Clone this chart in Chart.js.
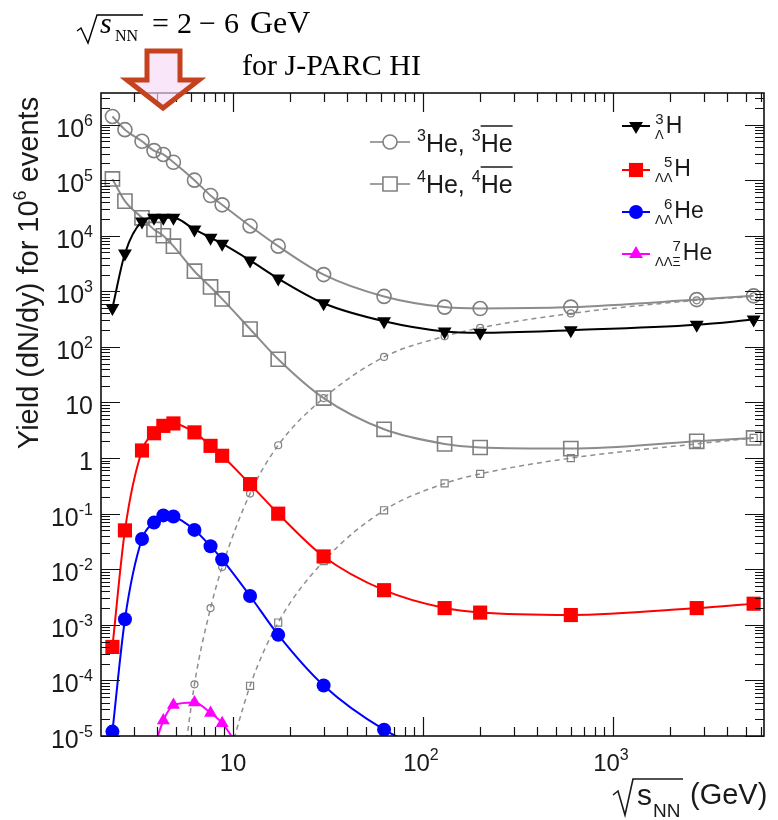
<!DOCTYPE html>
<html lang="en">
<head>
<meta charset="UTF-8" />
<title>Light nuclei and hypernuclei yields vs collision energy</title>
<script src="https://cdn.jsdelivr.net/npm/chart.js"></script>
<style>
  body { margin: 0; background: #ffffff; }
  canvas { display: block; }
</style>
</head>
<body>
<canvas id="yieldChart" width="778" height="820"></canvas>
<script>
// sqrt(s_NN) in GeV, shared by every series (index i -> energy i)
const sqrtS = [2.32, 2.70, 3.32, 3.84, 4.30, 4.86, 6.27, 7.62, 8.77, 12.3, 17.3, 30, 62.4, 130, 200, 600, 2760, 5500];

// yields dN/dy per 10^6 events
const he3      = [1.4e6, 8.1e5, 5.0e5, 3.4e5, 2.9e5, 2.1e5, 1.0e5, 5.3e4, 3.6e4, 1.5e4, 6.5e3, 2.0e3, 810, 520, 490, 520, 710, 830];
const he4      = [1.05e5, 4.2e4, 2.1e4, 1.3e4, 1.0e4, 6.5e3, 2.3e3, 1.2e3, 730, 210, 60, 12, 3.3, 1.8, 1.55, 1.48, 2.0, 2.3];
const antiHe3  = [null, null, null, null, null, 1e-7, 8.5e-5, 2.0e-3, 1.1e-2, 0.23, 1.7, 12, 66, 155, 220, 400, 690, 810];
const antiHe4  = [null, null, null, null, null, null, null, null, 1.5e-6, 8e-5, 1.1e-3, 0.014, 0.115, 0.35, 0.52, 1.0, 1.8, 2.3];
const hyperH3  = [500, 4.8e3, 1.8e4, 2.1e4, 2.1e4, 2.1e4, 1.3e4, 9.2e3, 7.2e3, 3.6e3, 1.7e3, 610, 290, 190, 180, 200, 250, 310];
const llH5     = [4.0e-4, 0.050, 1.37, 2.8, 3.8, 4.2, 2.9, 1.66, 1.1, 0.34, 0.10, 0.017, 4.2e-3, 2.0e-3, 1.66e-3, 1.5e-3, 2.0e-3, 2.4e-3];
const llHe6    = [1.2e-5, 1.26e-3, 0.035, 0.069, 0.093, 0.089, 0.051, 0.026, 0.015, 3.3e-3, 6.6e-4, 8.1e-5, 1.3e-5, 4e-6];
const llxiHe7  = [null, null, null, 6e-6, 1.9e-5, 3.6e-5, 4.0e-5, 2.6e-5, 1.7e-5, 3e-6];

// axis ranges and labelled ticks
const xRange = [2.02, 6237];
const yRange = [1e-5, 3.7e6];
const xTickDecades = [1, 2, 3];
const yTickDecades = [-5, -4, -3, -2, -1, 0, 1, 2, 3, 4, 5, 6];

const SANS = '"Liberation Sans", Arial, sans-serif';
const SERIF = '"Liberation Serif", "Times New Roman", serif';
const TEXT = '#1a1a1a';

function pts(vals) {
  return vals.map((v, i) => ({ x: sqrtS[i], y: v })).filter(p => p.y !== null);
}

// draw a run of text pieces; each piece may be shifted (super/subscript) and overlined
function rich(ctx, x, y, parts, align) {
  let total = 0;
  parts.forEach(p => {
    ctx.font = (p.italic ? 'italic ' : '') + p.size + 'px ' + (p.family || SANS);
    p.w = ctx.measureText(p.t).width;
    total += p.w + (p.gap || 0);
  });
  let cx = x;
  if (align === 'right') cx = x - total;
  if (align === 'center') cx = x - total / 2;
  ctx.textAlign = 'left';
  ctx.textBaseline = 'alphabetic';
  parts.forEach(p => {
    ctx.font = (p.italic ? 'italic ' : '') + p.size + 'px ' + (p.family || SANS);
    ctx.fillText(p.t, cx, y + (p.dy || 0));
    if (p.over) {
      ctx.save();
      ctx.lineWidth = 1.6;
      ctx.beginPath();
      ctx.moveTo(cx, y - p.over);
      ctx.lineTo(cx + p.w, y - p.over);
      ctx.stroke();
      ctx.restore();
    }
    cx += p.w + (p.gap || 0);
  });
  return total;
}

function marker(ctx, style, x, y, r, fill, stroke, lw) {
  ctx.save();
  ctx.beginPath();
  if (style === 'circle') {
    ctx.arc(x, y, r, 0, Math.PI * 2);
  } else if (style === 'rect') {
    const s = r * Math.SQRT1_2;
    ctx.rect(x - s, y - s, 2 * s, 2 * s);
  } else {
    const dir = style === 'down' ? 1 : -1;
    for (let k = 0; k < 3; k++) {
      const a = (dir === 1 ? Math.PI : 0) + k * 2 * Math.PI / 3;
      const px = x + Math.sin(a) * r, py = y - Math.cos(a) * r;
      if (k === 0) ctx.moveTo(px, py); else ctx.lineTo(px, py);
    }
    ctx.closePath();
  }
  if (fill) { ctx.fillStyle = fill; ctx.fill(); }
  if (stroke) { ctx.strokeStyle = stroke; ctx.lineWidth = lw; ctx.stroke(); }
  ctx.restore();
}

const frameAndLabels = {
  id: 'frameAndLabels',
  afterDatasetsDraw(chart) {
    const { ctx, chartArea: a, scales: { x, y } } = chart;
    ctx.save();

    // ticks on all four sides, pointing inwards
    ctx.strokeStyle = '#111';
    ctx.lineWidth = 1.2;
    ctx.beginPath();
    for (let e = 0; e <= 3; e++) {
      for (let k = 1; k <= 9; k++) {
        const v = k * Math.pow(10, e);
        if (v < xRange[0] || v > xRange[1]) continue;
        const px = Math.round(x.getPixelForValue(v)) + 0.5;
        const len = k === 1 ? 19 : 9;
        ctx.moveTo(px, a.bottom); ctx.lineTo(px, a.bottom - len);
        ctx.moveTo(px, a.top); ctx.lineTo(px, a.top + len);
      }
    }
    for (let e = -5; e <= 6; e++) {
      for (let k = 1; k <= 9; k++) {
        const v = k * Math.pow(10, e);
        if (v < yRange[0] || v > yRange[1]) continue;
        const py = Math.round(y.getPixelForValue(v)) + 0.5;
        const len = k === 1 ? 19 : 9;
        ctx.moveTo(a.left, py); ctx.lineTo(a.left + len, py);
        ctx.moveTo(a.right, py); ctx.lineTo(a.right - len, py);
      }
    }
    ctx.stroke();

    // frame
    ctx.lineWidth = 1.6;
    ctx.strokeRect(a.left, a.top, a.right - a.left, a.bottom - a.top);

    ctx.fillStyle = TEXT;
    ctx.strokeStyle = TEXT;

    // y tick labels
    yTickDecades.forEach(e => {
      const py = y.getPixelForValue(Math.pow(10, e)) + 12;
      if (e === 0) rich(ctx, 93, py, [{ t: '1', size: 25 }], 'right');
      else if (e === 1) rich(ctx, 93, py, [{ t: '10', size: 25 }], 'right');
      else rich(ctx, 93, py, [{ t: '10', size: 25 }, { t: String(e), size: 16, dy: -11 }], 'right');
    });

    // x tick labels
    xTickDecades.forEach(e => {
      const px = x.getPixelForValue(Math.pow(10, e));
      if (e === 1) rich(ctx, px, 771, [{ t: '10', size: 24 }], 'center');
      else rich(ctx, px - 2, 771, [{ t: '10', size: 24 }, { t: String(e), size: 16, dy: -11 }], 'center');
    });

    // x axis title: sqrt(s_NN) (GeV)
    ctx.lineWidth = 1.6;
    ctx.beginPath();
    ctx.moveTo(613, 795); ctx.lineTo(618, 791); ctx.lineTo(625, 815);
    ctx.lineTo(633, 779); ctx.lineTo(683, 779);
    ctx.stroke();
    rich(ctx, 637, 805, [{ t: 's', size: 30 }]);
    rich(ctx, 653, 817, [{ t: 'NN', size: 19 }]);
    rich(ctx, 690, 804, [{ t: '(GeV)', size: 29 }]);

    // y axis title
    ctx.save();
    ctx.translate(38, 273);
    ctx.rotate(-Math.PI / 2);
    rich(ctx, 0, 0, [
      { t: 'Yield (dN/dy) for 10', size: 29 },
      { t: '6', size: 18, dy: -12 },
      { t: ' events', size: 29 }
    ], 'center');
    ctx.restore();

    // legend, light nuclei
    const grey = '#808080';
    [[142, 152, 'circle', 7, '3'], [184, 193, 'rect', 10, '4']].forEach(([my, by, st, r, A]) => {
      ctx.strokeStyle = grey; ctx.lineWidth = 1.6;
      ctx.beginPath(); ctx.moveTo(370, my); ctx.lineTo(410, my); ctx.stroke();
      marker(ctx, st, 390, my, r, '#fff', grey, 1.6);
      ctx.fillStyle = TEXT; ctx.strokeStyle = TEXT;
      rich(ctx, 417, by, [
        { t: A, size: 16, dy: -11 },
        { t: 'He, ', size: 25 },
        { t: A, size: 16, dy: -11 },
        { t: 'He', size: 25, over: 26 }
      ]);
    });

    // legend, hypernuclei
    const hyp = [
      [126, 133, 'down', 8, '#000', 'Λ', '3', 'H'],
      [170, 176, 'rect', 10, '#ff0000', 'ΛΛ', '5', 'H'],
      [212, 218, 'circle', 7, '#0000ff', 'ΛΛ', '6', 'He'],
      [254, 260, 'up', 8, '#ff00ff', 'ΛΛΞ', '7', 'He']
    ];
    hyp.forEach(([my, by, st, r, col, sub, A, el]) => {
      ctx.strokeStyle = col; ctx.lineWidth = 2;
      ctx.beginPath(); ctx.moveTo(622, my); ctx.lineTo(650, my); ctx.stroke();
      marker(ctx, st, 636, my, r, col, null, 0);
      ctx.fillStyle = TEXT;
      ctx.font = '13px ' + SANS;
      const w = ctx.measureText(sub).width;
      rich(ctx, 655, by + 6, [{ t: sub, size: 13 }]);
      rich(ctx, 655 + w, by - 9, [{ t: A, size: 15 }], 'right');
      rich(ctx, 657 + w, by, [{ t: el, size: 23 }]);
    });

    // energy range note above the frame
    ctx.fillStyle = '#000'; ctx.strokeStyle = '#000';
    ctx.lineWidth = 1.4;
    ctx.beginPath();
    ctx.moveTo(77, 31); ctx.lineTo(81, 28); ctx.lineTo(88, 43);
    ctx.lineTo(97, 15); ctx.lineTo(143, 15);
    ctx.stroke();
    rich(ctx, 100, 33, [{ t: 's', size: 30, italic: true, family: SERIF }]);
    rich(ctx, 115, 41, [{ t: 'NN', size: 16, family: SERIF }]);
    rich(ctx, 152, 33, [{ t: '=', size: 30, family: SERIF }]);
    rich(ctx, 177, 33, [{ t: '2', size: 30, family: SERIF }]);
    rich(ctx, 199, 33, [{ t: '−', size: 30, family: SERIF }]);
    rich(ctx, 224, 33, [{ t: '6', size: 30, family: SERIF }]);
    rich(ctx, 250, 33, [{ t: 'GeV', size: 32, family: SERIF }]);
    rich(ctx, 242, 75, [{ t: 'for J-PARC HI', size: 30, family: SERIF }]);

    // arrow pointing at the low-energy end
    ctx.beginPath();
    ctx.moveTo(147, 51); ctx.lineTo(180, 51); ctx.lineTo(180, 80);
    ctx.lineTo(199, 80); ctx.lineTo(163, 108); ctx.lineTo(127, 80);
    ctx.lineTo(147, 80); ctx.closePath();
    ctx.fillStyle = 'rgba(246, 218, 246, 0.65)';
    ctx.fill();
    ctx.strokeStyle = '#c4421d';
    ctx.lineWidth = 5;
    ctx.lineJoin = 'miter';
    ctx.stroke();

    ctx.restore();
  }
};

const lineOpts = { fill: false, cubicInterpolationMode: 'monotone', pointHoverRadius: 0 };

new Chart(document.getElementById('yieldChart'), {
  type: 'line',
  data: {
    datasets: [
      { ...lineOpts, label: '3H_L', data: pts(hyperH3), borderColor: '#000', borderWidth: 2,
        pointStyle: 'triangle', rotation: 180, pointRadius: 8, pointBackgroundColor: '#000', pointBorderWidth: 0 },
      { ...lineOpts, label: '3He', data: pts(he3), borderColor: '#8c8c8c', borderWidth: 2,
        pointStyle: 'circle', pointRadius: 7, pointBackgroundColor: 'rgba(0,0,0,0)', pointBorderColor: '#7f7f7f', pointBorderWidth: 1.6 },
      { ...lineOpts, label: '4He', data: pts(he4), borderColor: '#8c8c8c', borderWidth: 2,
        pointStyle: 'rect', pointRadius: 10, pointBackgroundColor: 'rgba(0,0,0,0)', pointBorderColor: '#7f7f7f', pointBorderWidth: 1.6 },
      { ...lineOpts, label: '5H_LL', data: pts(llH5), borderColor: '#ff0000', borderWidth: 2,
        pointStyle: 'rect', pointRadius: 10, pointBackgroundColor: '#ff0000', pointBorderWidth: 0 },
      { ...lineOpts, label: '6He_LL', data: pts(llHe6), borderColor: '#0000ff', borderWidth: 2,
        pointStyle: 'circle', pointRadius: 7, pointBackgroundColor: '#0000ff', pointBorderWidth: 0 },
      { ...lineOpts, label: '7He_LLXi', data: pts(llxiHe7), borderColor: '#ff00ff', borderWidth: 2,
        pointStyle: 'triangle', pointRadius: 7.5, pointBackgroundColor: '#ff00ff', pointBorderWidth: 0 },
      { ...lineOpts, label: 'anti-3He', data: pts(antiHe3), borderColor: '#8f8f8f', borderWidth: 1.5, borderDash: [5, 4],
        pointStyle: 'circle', pointRadius: 3.5, pointBackgroundColor: 'rgba(0,0,0,0)', pointBorderColor: '#808080', pointBorderWidth: 1.2 },
      { ...lineOpts, label: 'anti-4He', data: pts(antiHe4), borderColor: '#8f8f8f', borderWidth: 1.5, borderDash: [5, 4],
        pointStyle: 'rect', pointRadius: 5, pointBackgroundColor: 'rgba(0,0,0,0)', pointBorderColor: '#808080', pointBorderWidth: 1.2 }
    ]
  },
  options: {
    responsive: false,
    animation: false,
    events: [],
    layout: { padding: { left: 101, right: 14, top: 93, bottom: 84 } },
    plugins: { legend: { display: false }, tooltip: { enabled: false } },
    scales: {
      x: { type: 'logarithmic', min: xRange[0], max: xRange[1], display: false },
      y: { type: 'logarithmic', min: yRange[0], max: yRange[1], display: false }
    }
  },
  plugins: [frameAndLabels]
});
</script>
</body>
</html>
